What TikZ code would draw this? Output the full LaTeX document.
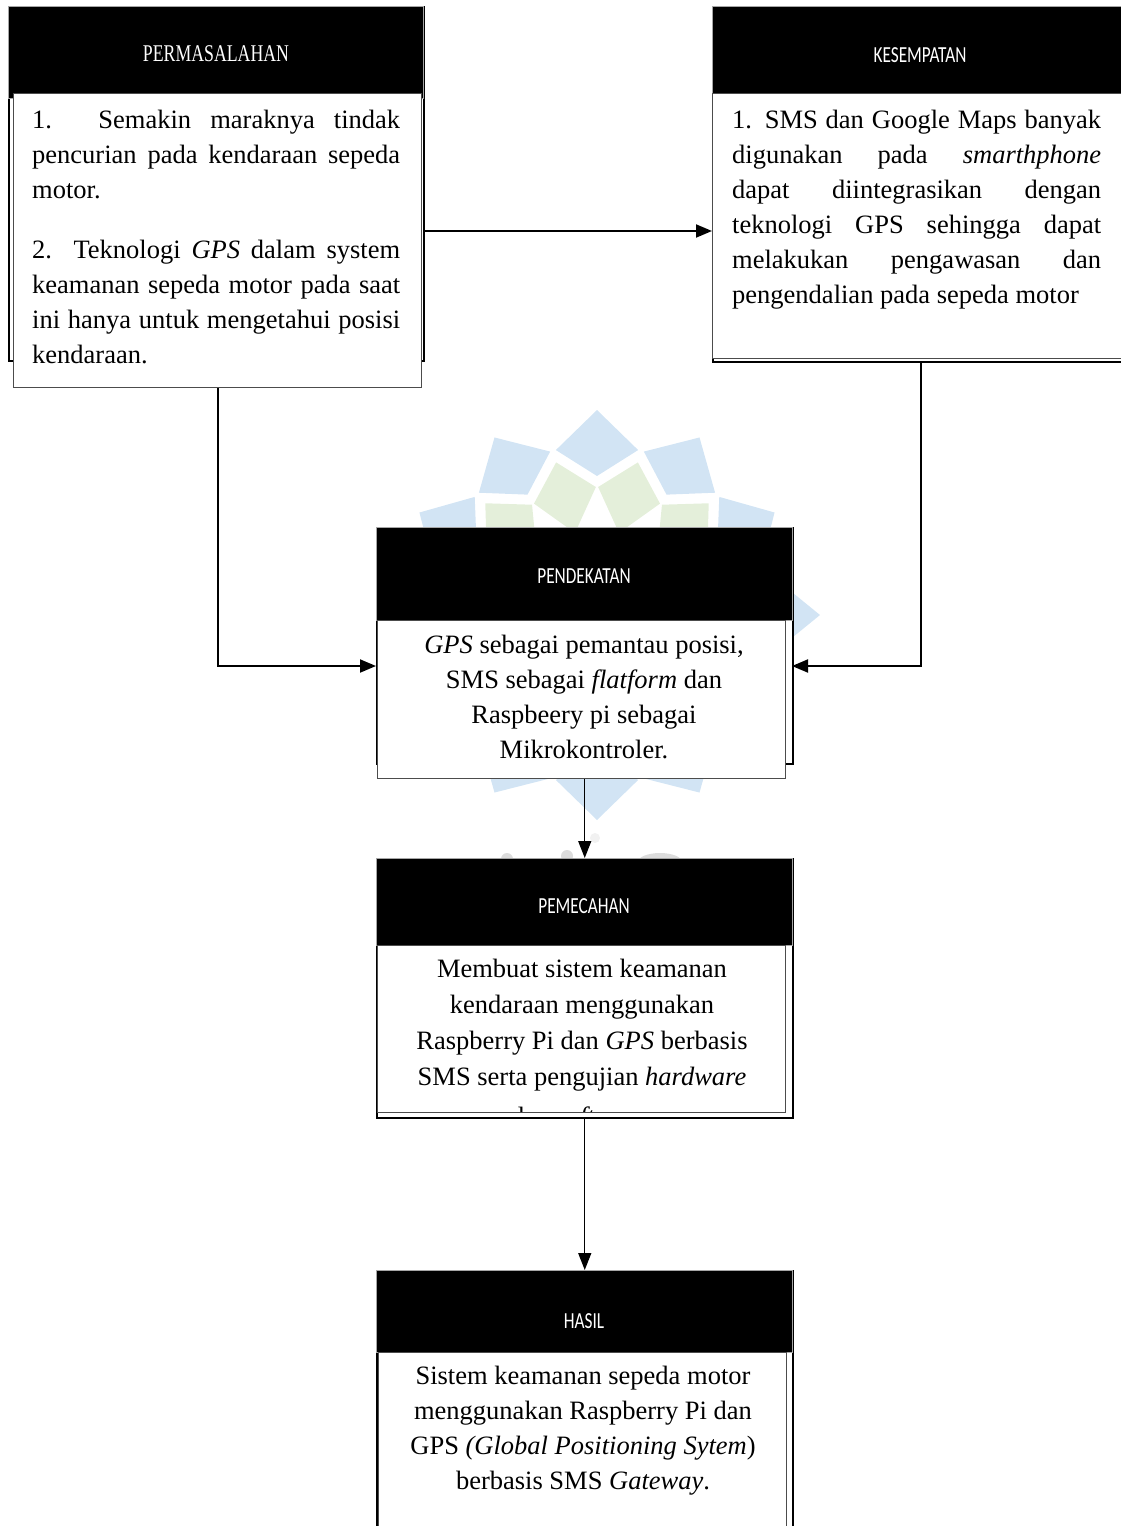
\documentclass[tikz,border=0pt]{standalone}
\usepackage{fontspec}
\setmainfont{Liberation Serif}
\newfontfamily\hdsans[FakeStretch=0.75]{Carlito}
\newfontfamily\hdserif[FakeStretch=0.74]{Liberation Serif}
\usetikzlibrary{arrows.meta}
\definecolor{wmblue}{HTML}{D2E4F4}
\definecolor{wmgreen}{HTML}{E4EFDA}
\definecolor{wmgray}{HTML}{DCDCDC}
\newcommand\bodyfs{\fontsize{26.5}{35}\selectfont}
\newcommand\jl[2]{\makebox[#1][s]{#2}}
\newcommand\fstrut{\rule{0pt}{21pt}}
\begin{document}
\begin{tikzpicture}[x=1pt,y=-1pt,
  outerbox/.style={draw=black,line width=1.5pt,fill=white,inner sep=0pt,anchor=north west},
  hdr/.style={fill=black,draw=black!35,line width=1pt,inner sep=0pt,anchor=north west},
  bodybox/.style={fill=white,draw=black!70,line width=1.2pt,inner sep=0pt,anchor=north west},
  hdrtext/.style={text=white,inner sep=0pt,anchor=base,font=\hdsans\fontsize{23}{28}\selectfont},
  jtext/.style={inner sep=0pt,anchor=north west,align=left,font=\bodyfs},
  ctext/.style={inner sep=0pt,anchor=north,align=center,font=\bodyfs},
  conn/.style={line width=1.9pt,-{Triangle[length=16pt,width=13pt]}},
  conn2/.style={line width=1.4pt,-{Triangle[length=17pt,width=13pt]}}
]
\useasboundingbox (0,0) rectangle (1121,1526);
\clip (0,0) rectangle (1121,1526);

% watermark
\begin{scope}[shift={(597,615)}]
  \foreach \a in {30,60,...,330}
    \fill[wmblue] (\a:205) -- (\a+14:170) -- (\a:139) -- (\a-14:170) -- cycle;
  \fill[wmblue] (0:223) -- (14:176) -- (0:142) -- (-14:176) -- cycle;
  \foreach \a in {15,45,...,345}
    \fill[wmgreen] (\a:158) -- (\a+14.5:128) -- (\a:85) -- (\a-14.5:128) -- cycle;
\end{scope}
\fill[wmgray!85!black!20] (595,838) circle (5);
\fill[wmgray] (507,859) circle (6);
\fill[wmgray] (567,856) circle (6);
\fill[wmgray] (660,862) ellipse (22 and 9);

% Box 1 PERMASALAHAN
\node[outerbox,minimum width=415pt,minimum height=354pt] (o1) at (8,6) {};
\node[hdr,minimum width=415pt,minimum height=92pt] (h1) at (8,6) {};
\node[hdrtext,font=\hdserif\fontsize{24}{28}\selectfont] (l1) at (216,61) {PERMASALAHAN};
\node[bodybox,minimum width=408pt,minimum height=294pt] (b1) at (13,93) {};
\node[jtext] (t1a) at (32,107) {\fstrut\jl{368pt}{1. Semakin maraknya tindak}\\
  \jl{368pt}{pencurian pada kendaraan sepeda}\\
  motor.};
\node[jtext] (t1b) at (32,237) {\fstrut\jl{368pt}{2. Teknologi \textit{GPS} dalam system}\\
  \jl{368pt}{keamanan sepeda motor pada saat}\\
  \jl{368pt}{ini hanya untuk mengetahui posisi}\\
  kendaraan.};

% Box 2 KESEMPATAN
\node[outerbox,minimum width=416pt,minimum height=355pt] (o2) at (712,6) {};
\node[hdr,minimum width=416pt,minimum height=87pt] (h2) at (712,6) {};
\node[hdrtext] (l2) at (920,62) {KESEMPATAN};
\node[bodybox,minimum width=416pt,minimum height=265pt] (b2) at (712,93) {};
\node[jtext] (t2) at (732,107) {\fstrut\jl{369pt}{1. SMS dan Google Maps banyak}\\
  \jl{369pt}{digunakan pada \textit{smarthphone}}\\
  \jl{369pt}{dapat diintegrasikan dengan}\\
  \jl{369pt}{teknologi GPS sehingga dapat}\\
  \jl{369pt}{melakukan pengawasan dan}\\
  pengendalian pada sepeda motor};

% Box 3 PENDEKATAN
\node[outerbox,minimum width=416pt,minimum height=236pt] (o3) at (376,527) {};
\node[hdr,minimum width=416pt,minimum height=93pt] (h3) at (376,527) {};
\node[hdrtext] (l3) at (584,583) {PENDEKATAN};
\node[bodybox,minimum width=408pt,minimum height=158pt] (b3) at (377,620) {};
\node[ctext] (t3) at (584,632) {\fstrut\textit{GPS} sebagai pemantau posisi,\\
  SMS sebagai \textit{flatform} dan\\
  Raspbeery pi sebagai\\
  Mikrokontroler.};

% Box 4 PEMECAHAN
\node[outerbox,minimum width=416pt,minimum height=259pt] (o4) at (376,858) {};
\node[hdr,minimum width=416pt,minimum height=87pt] (h4) at (376,858) {};
\node[hdrtext] (l4) at (584,913) {PEMECAHAN};
\node[bodybox,minimum width=408pt,minimum height=167pt] (b4) at (377,945) {};
\begin{scope}
  \clip (378,946) rectangle (784,1111);
  \node[ctext,font=\fontsize{26.5}{36}\selectfont] (t4) at (582,956) {\fstrut Membuat sistem keamanan\\
    kendaraan menggunakan\\
    Raspberry Pi dan \textit{GPS} berbasis\\
    SMS serta pengujian \textit{hardware}\\[4pt]
    dan \textit{software}.};
\end{scope}

% Box 5 HASIL
\node[outerbox,minimum width=416pt,minimum height=300pt] (o5) at (376,1270) {};
\node[hdr,minimum width=416pt,minimum height=82pt] (h5) at (376,1270) {};
\node[hdrtext] (l5) at (584,1328) {HASIL};
\node[bodybox,minimum width=408pt,minimum height=200pt] (b5) at (378,1352) {};
\node[ctext] (t5) at (583,1363) {\fstrut Sistem keamanan sepeda motor\\
  menggunakan Raspberry Pi dan\\
  GPS \textit{(Global Positioning Sytem}\/)\\
  berbasis SMS \textit{Gateway}.};

% connectors
\coordinate (j1) at (423,231);
\coordinate (p3l) at (376,666);
\coordinate (p3r) at (792,666);
\draw[conn] (j1) -- (j1 -| o2.west);
\draw[conn] (b1.south) |- (p3l);
\draw[conn] (o2.south) |- (p3r);
\draw[conn2] (o4.north |- b3.south) -- (o4.north);
\draw[conn2] (o4.south) -- (o5.north);
\end{tikzpicture}
\end{document}
